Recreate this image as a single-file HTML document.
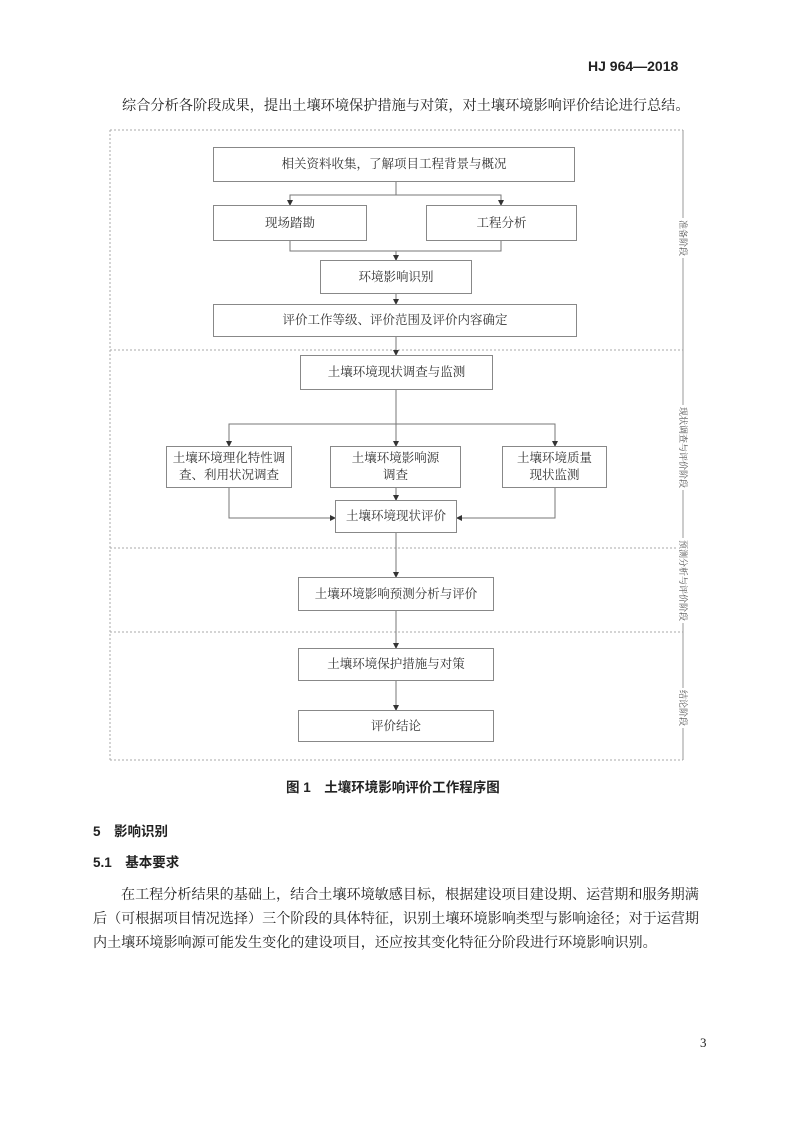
<!DOCTYPE html>
<html><head><meta charset="utf-8"><style>
body{margin:0;width:800px;height:1132px;background:#fff;position:relative;font-family:"Liberation Serif","Noto Serif CJK SC",serif;color:#222;overflow:hidden}
.t{position:absolute;white-space:nowrap}
.b{position:absolute;border:1px solid #888;background:#fff;display:flex;align-items:center;justify-content:center;text-align:center;font-size:12.5px;line-height:17px;color:#333;box-sizing:border-box}
.side{position:absolute;writing-mode:vertical-rl;text-orientation:sideways;font-size:9px;color:#555;background:#fff;padding:2px 0}
</style></head><body>
<div class="t" style="left:588px;top:58px;font-family:'Liberation Sans',sans-serif;font-weight:bold;font-size:14px">HJ 964—2018</div>
<div class="t" style="left:122px;top:95px;font-size:14.2px">综合分析各阶段成果，提出土壤环境保护措施与对策，对土壤环境影响评价结论进行总结。</div>

<svg style="position:absolute;left:0;top:0" width="800" height="800">
<defs><marker id="a" markerWidth="6" markerHeight="6" refX="5" refY="3" orient="auto"><path d="M0,0L6,3L0,6z" fill="#333"/></marker></defs>
<g fill="none" stroke="#aaa" stroke-dasharray="2,2" stroke-width="1">
<path d="M110,130H683M110,130V760M110,760H683M110,350H683M110,548H683M110,632H683"/>
</g>
<path d="M683,130V760" stroke="#999" stroke-width="1"/>
<g stroke="#777" stroke-width="1" fill="none">
<path d="M396,182V195H290V205" marker-end="url(#a)"/>
<path d="M396,195H501V205" marker-end="url(#a)"/>
<path d="M290,241V251H501V241M396,251V260" marker-end="url(#a)"/>
<path d="M396,294V304" marker-end="url(#a)"/>
<path d="M396,337V355" marker-end="url(#a)"/>
<path d="M396,390V446" marker-end="url(#a)"/>
<path d="M396,424H229V446" marker-end="url(#a)"/>
<path d="M396,424H555V446" marker-end="url(#a)"/>
<path d="M396,488V500" marker-end="url(#a)"/>
<path d="M229,488V518H335" marker-end="url(#a)"/>
<path d="M555,488V518H457" marker-end="url(#a)"/>
<path d="M396,533V577" marker-end="url(#a)"/>
<path d="M396,611V648" marker-end="url(#a)"/>
<path d="M396,681V710" marker-end="url(#a)"/>
</g>
</svg>

<div class="b" style="left:213px;top:147px;width:362px;height:35px">相关资料收集，了解项目工程背景与概况</div>
<div class="b" style="left:213px;top:205px;width:154px;height:36px">现场踏勘</div>
<div class="b" style="left:426px;top:205px;width:151px;height:36px">工程分析</div>
<div class="b" style="left:320px;top:260px;width:152px;height:34px">环境影响识别</div>
<div class="b" style="left:213px;top:304px;width:364px;height:33px">评价工作等级、评价范围及评价内容确定</div>
<div class="b" style="left:300px;top:355px;width:193px;height:35px">土壤环境现状调查与监测</div>
<div class="b" style="left:166px;top:446px;width:126px;height:42px">土壤环境理化特性调<br>查、利用状况调查</div>
<div class="b" style="left:330px;top:446px;width:131px;height:42px">土壤环境影响源<br>调查</div>
<div class="b" style="left:502px;top:446px;width:105px;height:42px">土壤环境质量<br>现状监测</div>
<div class="b" style="left:335px;top:500px;width:122px;height:33px">土壤环境现状评价</div>
<div class="b" style="left:298px;top:577px;width:196px;height:34px">土壤环境影响预测分析与评价</div>
<div class="b" style="left:298px;top:648px;width:196px;height:33px">土壤环境保护措施与对策</div>
<div class="b" style="left:298px;top:710px;width:196px;height:32px">评价结论</div>

<div class="side" style="left:677px;top:218px">准备阶段</div>
<div class="side" style="left:677px;top:405px">现状调查与评价阶段</div>
<div class="side" style="left:677px;top:538px">预测分析与评价阶段</div>
<div class="side" style="left:677px;top:688px">结论阶段</div>

<div class="t" style="left:286px;top:776px;font-family:'Liberation Sans','Noto Sans CJK SC',sans-serif;font-weight:bold;font-size:13.5px">图 1　土壤环境影响评价工作程序图</div>
<div class="t" style="left:93px;top:820px;font-family:'Liberation Sans','Noto Sans CJK SC',sans-serif;font-weight:bold;font-size:13.5px">5　影响识别</div>
<div class="t" style="left:93px;top:851px;font-family:'Liberation Sans','Noto Sans CJK SC',sans-serif;font-weight:bold;font-size:13.5px">5.1　基本要求</div>
<div class="t" style="left:121px;top:883px;font-size:14.1px;line-height:24px">在工程分析结果的基础上，结合土壤环境敏感目标，根据建设项目建设期、运营期和服务期满</div>
<div class="t" style="left:93px;top:907px;font-size:14.1px;line-height:24px">后（可根据项目情况选择）三个阶段的具体特征，识别土壤环境影响类型与影响途径；对于运营期</div>
<div class="t" style="left:93px;top:931px;font-size:14.1px;line-height:24px">内土壤环境影响源可能发生变化的建设项目，还应按其变化特征分阶段进行环境影响识别。</div>
<div class="t" style="left:700px;top:1035px;font-size:13px">3</div>
</body></html>
